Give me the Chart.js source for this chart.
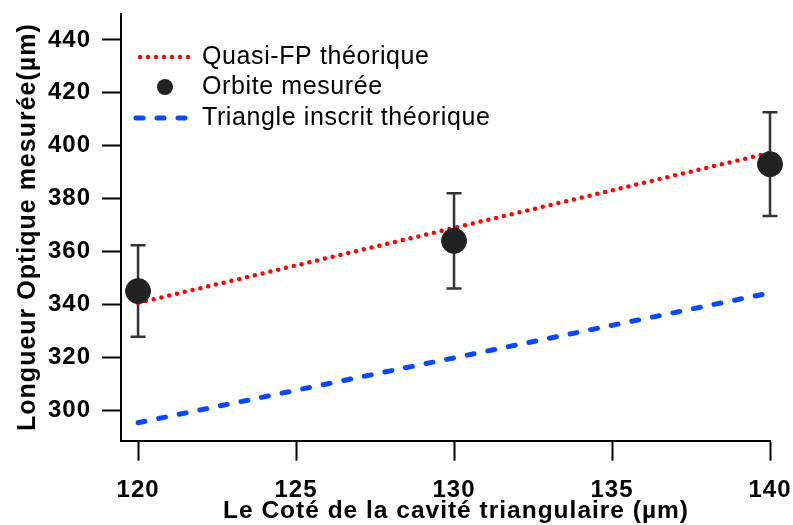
<!DOCTYPE html>
<html>
<head>
<meta charset="utf-8">
<script src="https://cdn.jsdelivr.net/npm/chart.js@4.4.0/dist/chart.umd.min.js"></script>
<style>
  html, body { margin: 0; padding: 0; background: #fff; }
  #wrap { width: 793px; height: 525px; }
</style>
</head>
<body>
<div id="wrap"><canvas id="chart"></canvas></div>
<script>
// values
const sides = [120, 130, 140];
const measured = [345, 364, 393];
const measuredErr = [17.3, 18, 19.6];
const quasiSides = [120, 140];
const quasiFP = [340.5, 397.3];
const triSides = [120, 140];
const triangle = [295.2, 344.3];
const xTicks = [120, 125, 130, 135, 140];
const yTicks = [300, 320, 340, 360, 380, 400, 420, 440];

const FONT = '"Liberation Sans", Arial, sans-serif';

function pts(xs, ys) {
    return xs.map((x, i) => ({x: x, y: ys[i]}));
}

// the original font runs a little wider than Liberation Sans
const spacing = {
    id: 'spacing',
    beforeLayout(chart) { chart.ctx.letterSpacing = '1px'; },
    beforeDraw(chart) { chart.ctx.letterSpacing = '1px'; }
};

// error bars under the measured points
const errorBars = {
    id: 'errorBars',
    beforeDatasetsDraw(chart) {
        const ctx = chart.ctx;
        const xs = chart.scales.x, ys = chart.scales.y;
        ctx.save();
        ctx.strokeStyle = '#333';
        ctx.lineWidth = 2.5;
        for (let i = 0; i < sides.length; i++) {
            let px = xs.getPixelForValue(sides[i]);
            let top = ys.getPixelForValue(measured[i] + measuredErr[i]);
            let bot = ys.getPixelForValue(measured[i] - measuredErr[i]);
            ctx.beginPath();
            ctx.moveTo(px, top); ctx.lineTo(px, bot);
            ctx.moveTo(px - 7.5, top); ctx.lineTo(px + 7.5, top);
            ctx.moveTo(px - 7.5, bot); ctx.lineTo(px + 7.5, bot);
            ctx.stroke();
        }
        ctx.restore();
    }
};

// legend inside the plot, top left + x axis title
const insideLegend = {
    id: 'insideLegend',
    afterDraw(chart) {
        const ctx = chart.ctx;
        const rows = [
            {label: 'Quasi-FP théorique', ds: 1, y: 57},
            {label: 'Orbite mesurée', ds: 0, y: 87},
            {label: 'Triangle inscrit théorique', ds: 2, y: 118}
        ];
        ctx.save();
        rows.forEach(r => {
            let d = chart.data.datasets[r.ds];
            if (r.ds == 0) {
                ctx.fillStyle = d.backgroundColor;
                ctx.beginPath();
                ctx.arc(165, r.y, 8, 0, Math.PI * 2);
                ctx.fill();
            } else {
                ctx.strokeStyle = d.borderColor;
                ctx.lineWidth = d.borderWidth;
                ctx.lineCap = 'round';
                ctx.setLineDash(d.borderDash);
                ctx.beginPath();
                ctx.moveTo(r.ds == 1 ? 140 : 136, r.y);
                ctx.lineTo(192, r.y);
                ctx.stroke();
                ctx.setLineDash([]);
            }
            ctx.fillStyle = '#000';
            ctx.font = '25px ' + FONT;
            ctx.letterSpacing = '0.6px';
            ctx.textBaseline = 'middle';
            ctx.textAlign = 'left';
            ctx.fillText(r.label, 202, r.y);
        });
        ctx.letterSpacing = '1px';
        ctx.font = 'bold 24.5px ' + FONT;
        ctx.textAlign = 'center';
        ctx.fillText('Le Coté de la cavité triangulaire (µm)', 456, 511);
        ctx.restore();
    }
};

const ctx = document.getElementById('chart').getContext('2d');
const chart = new Chart(ctx, {
    type: 'scatter',
    data: {
        datasets: [
            {
                label: 'Orbite mesurée',
                data: pts(sides, measured),
                backgroundColor: '#222',
                borderColor: '#222',
                pointRadius: 12.5,
                pointHoverRadius: 12.5,
                showLine: false,
                clip: false
            },
            {
                label: 'Quasi-FP théorique',
                data: pts(quasiSides, quasiFP),
                showLine: true,
                borderColor: '#ff0000',
                borderWidth: 4.5,
                borderDash: [0, 8],
                borderCapStyle: 'round',
                pointRadius: 0,
                clip: false
            },
            {
                label: 'Triangle inscrit théorique',
                data: pts(triSides, triangle),
                showLine: true,
                borderColor: '#0a48ff',
                borderWidth: 5,
                borderDash: [7, 14],
                borderCapStyle: 'round',
                pointRadius: 0,
                clip: false
            }
        ]
    },
    options: {
        responsive: true,
        maintainAspectRatio: false,
        animation: false,
        layout: {padding: {top: 13, right: 23, left: 0, bottom: 0}},
        plugins: {
            legend: {display: false},
            tooltip: {enabled: false}
        },
        scales: {
            x: {
                type: 'linear',
                min: 119.46,
                max: 140,
                afterFit: s => { s.height = 84.3; s.paddingLeft = 0; s.paddingRight = 0; },
                afterBuildTicks: s => { s.ticks = xTicks.map(v => ({value: v})); },
                border: {display: true, color: '#000', width: 2},
                grid: {display: true, drawOnChartArea: false, drawTicks: true,
                       tickLength: 20, tickColor: '#000', tickWidth: 2},
                ticks: {color: '#000', padding: 15, maxRotation: 0,
                        font: {family: FONT, size: 24, weight: 'bold'}}
            },
            y: {
                min: 288.4,
                max: 450,
                afterFit: s => { s.width = 121; s.paddingTop = 0; s.paddingBottom = 0; },
                afterBuildTicks: s => { s.ticks = yTicks.map(v => ({value: v})); },
                border: {display: true, color: '#000', width: 2},
                grid: {display: true, drawOnChartArea: false, drawTicks: true,
                       tickLength: 19, tickColor: '#000', tickWidth: 2},
                ticks: {color: '#000', padding: 11,
                        font: {family: FONT, size: 24, weight: 'bold'}},
                title: {display: true, text: 'Longueur Optique mesurée(µm)',
                        color: '#000', padding: {top: 13, bottom: 0},
                        font: {family: FONT, size: 25, weight: 'bold'}}
            }
        }
    },
    plugins: [spacing, errorBars, insideLegend]
});
</script>
</body>
</html>
